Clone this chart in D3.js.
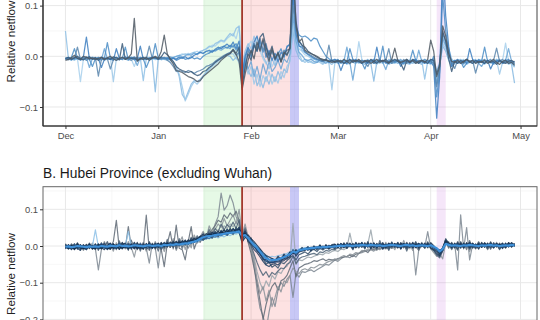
<!DOCTYPE html>
<html><head><meta charset="utf-8">
<script src="https://cdn.jsdelivr.net/npm/d3@7"></script>
<style>body{margin:0;background:#fff}svg{display:block}text{font-family:Arial,"Liberation Sans",sans-serif}</style>
</head><body><svg id="c" width="540" height="320"></svg>
<script>
// ---------------- data ----------------
const firstDay = "2019-12-01";           // daily series start (151 days, to 2020-04-29)
const monthTicks = ["2019-12-01","2020-01-01","2020-02-01","2020-03-01","2020-04-01","2020-05-01"];
const monthLabels = ["Dec","Jan","Feb","Mar","Apr","May"];
const topYTicks = [0.1, 0.0, -0.1];
const bottomYTicks = [0.1, 0.0, -0.1, -0.2];
const periodStarts = ["2020-01-16","2020-01-29","2020-02-14","2020-04-03"];
const periodEnds   = ["2020-01-29","2020-02-14","2020-02-17","2020-04-06"];
const lockdownDate = "2020-01-29";
const yTitle = "Relative netflow";
const titleB = "B. Hubei Province (excluding Wuhan)";

// Panel A series, relative netflow in thousandths
const a1 = [-8,-6,-3,2,-4,-6,0,-2,-5,-3, -6,-4,-2,-7,-3,0,-5,-8,-4,-2, -6,-3,5,75,-10,-4,-6,-2,-8,-3, 0,-4,10,42,5,-6,-15,-28,-30,-32, -36,-40,-42,-45,-50,-48,-40,-35,-30,-25, -20,-15,-8,-3,2,5,12,4,-10,-66, -35,-8,12,-5,28,10,35,8,-10,15, -4,6,-12,8,2,18,200,60,28,35, 12,8,5,3,0,-4,-6,-8,-10,-12, -10,-8,-12,-6,-10,-14,-8,-10,-6,-12, -10,-8,-14,-10,-6,-12,-8,-10,-14,-6, 16,-8,-12,-10,-6,-12,-8,-14,-10,-8, -12,-6,32,10,-40,-20,60,40,5,-10, -12,-8,-14,-10,-6,-12,-8,-14,-10,-12, -8,-14,-10,-6,-12,-16,-10,-8,-14,-12, -18];
const a2 = [-4,-2,-6,-3,0,-5,-7,-3,-1,-6, -3,-8,-2,-5,-4,-6,-1,-3,-7,25, -6,-2,-4,-3,-8,-5,-2,-6,-4,-3, -2,-6,-1,8,3,-4,-10,-20,-25,-28, -30,-32,-30,-35,-38,-36,-30,-28,-22,-18, -12,-8,-4,0,4,6,14,6,18,-62, -20,5,-8,22,10,38,45,18,2,20, -6,8,-10,5,12,15,160,70,30,22, 18,10,6,2,-2,-5,-8,-6,-10,-8, -12,-10,-8,-14,-10,-6,-12,-8,-10,-14, -8,-12,-6,-10,-14,-8,-10,-6,-12,-10, -6,-10,-14,-27,-8,-12,-6,-10,-14,-8, -10,-14,-6,-8,-35,-15,50,30,-5,-30, -10,-14,-8,-12,-6,-10,-14,-8,-12,-10, -14,-8,-12,-10,-16,-8,-12,-14,-10,-8, -12];
const a3 = [-6,-4,-2,15,-3,-8,-4,-1,-6,-20, -5,-2,-7,-4,27,-3,-6,-2,-5,-4, 18,-7,-4,-1,-6,-3,-5,-22,-8,-4, 25,-3,-5,-2,-6,-4,-3,-8,-5,-2, -6,-4,-1,-5,-3,-6,0,4,6,10, 12,15,18,20,16,22,18,25,8,-45, -5,15,-2,25,10,30,8,20,-5,12, -8,4,15,-3,20,22,130,60,42,38, 40,36,30,36,34,20,10,0,-5,-8, -10,-6,-12,-8,-10,15,-6,-10,-8,-12, -25,-8,-10,-6,-12,-10,20,-14,-10,-6, -12,-8,-10,-14,-6,-10,12,-8,-12,-10, -6,-10,-14,0,-80,-30,120,50,10,-15, -8,-12,-10,-22,-14,-10,-8,-12,-6,-10, 18,-10,-6,-14,-8,-10,-12,-6,-14,-10, -16];
const a4 = [-5,-3,-7,-2,-4,-6,-1,38,-5,-3, -7,-4,-22,-6,-3,-5,-8,15,-4,-6, -1,-5,-3,-7,-4,20,-6,-3,-5,-1, -4,-6,-2,-5,-3,-7,-4,-6,-2,-4, -1,-5,-3,2,5,8,6,10,12,8, 14,18,15,20,24,18,28,15,30,-35, 0,18,6,28,40,15,30,-2,12,-8, 6,-10,8,0,18,25,120,45,20,18, 8,4,0,-4,-6,-8,-10,-6,-12,-8, -6,-10,-28,-12,-14,-8,-10,-6,-12,-8, -10,-14,-8,-12,18,-10,-8,-12,-14,-8, -10,-6,-20,-8,-10,-14,-8,-6,-12,-10, -14,-8,-10,-20,-122,-40,180,80,20,-20, -10,-6,-12,-8,-14,15,-6,-12,-8,-10, -14,-8,-25,-12,-10,-8,-14,-10,-6,-12, -10];
const a5 = [50,-5,-8,-3,-6,-2,-7,-4,-1,-6, -3,-8,-5,-2,-6,-4,-7,-3,-5,-2, -6,-4,-1,-5,-8,-3,-48,-4,-6,-2, -5,-3,-7,-4,-2,-6,-3,-5,0,3, 5,2,6,8,4,10,12,15,20,18, 25,28,32,30,38,45,40,55,60,-20, 10,25,15,40,22,30,0,-12,-25,-5, -18,2,-8,10,5,15,90,40,25,12, 8,3,-2,-5,-8,-6,-10,-8,-12,-10, -6,-12,-8,-10,-14,-6,-10,-12,-8,-14, -10,-6,-12,-8,-10,-14,-8,-12,-6,-10, -12,-8,-14,-10,-6,-12,-10,-8,-14,-6, -45,-10,-8,-5,-30,-10,40,25,15,-5, -12,-8,-6,-14,-10,-12,-8,-6,-14,-10, -8,-12,-10,-14,-6,-10,-12,-8,-10,-14, -20];
const a6 = [-3,-6,-2,-7,-4,-50,-5,-3,-8,-2, -6,-4,-1,-5,-3,-7,-2,-6,-4,-3, -5,-2,-6,-20,-3,-5,-4,-1,-6,-3, -7,-2,-5,-3,-6,-4,-1,0,2,5, 3,6,4,8,10,6,12,14,18,22, 20,26,30,28,35,40,45,35,58,-25, 5,20,30,15,38,10,-5,-15,-2,-20, -8,10,-5,12,2,10,70,35,15,10, 3,0,-4,-6,-8,-10,-6,-12,-8,-10, -14,-8,-10,-6,-12,-8,-10,-14,29,-6, -12,-8,-10,-14,-6,-10,-12,-8,-14,-10, -6,-12,-8,-10,-14,-8,-6,-12,-10,-8, -14,-10,-6,-12,-50,-15,30,20,8,-8, -10,-14,-8,-6,-12,-10,-14,-8,-10,-6, -12,-8,-14,-10,-6,-12,-8,26,-10,-14, -22];
const a7 = [-4,-7,-3,-5,18,-6,-4,-8,-3,-5, -2,-39,-6,-3,-5,-25,-7,-2,-6,-4, -3,-5,-8,-4,-2,-6,-3,-5,20,-4, -2,-6,-4,-3,-8,-12,-20,-30,-28,-30, -32,-28,-30,-34,-30,-28,-25,-20,-18,-15, -10,-6,-2,2,5,8,12,2,8,-55, -25,10,2,25,15,35,12,25,-2,10, -6,5,-10,12,4,14,100,55,30,22, 10,5,2,-2,-5,-8,-10,-8,22,-10, -8,-12,-10,-14,-8,-10,-6,-12,-10,-8, -12,-20,-8,-14,-10,-6,-12,-8,15,-14, -8,-10,-12,-6,-14,-8,-10,-12,-8,-10, -12,-8,-10,-14,-60,-25,45,30,10,-12, -24,-8,-12,-14,-6,-10,-8,-33,-12,-10, -6,-12,-10,-8,16,-10,-6,-12,-8,-10, -14];
const a8 = [-6,-3,-5,-8,-2,-4,-7,-3,-6,-1, -5,-3,-7,-4,-6,-2,-50,-5,-3,-7, -4,-6,-2,-5,-3,-8,-4,-6,-2,-5, -3,-7,-4,-6,-8,-5,-10,-25,-35,-60, -88,-75,-60,-50,-55,-48,-40,-30,-25,-20, -15,-10,-5,0,3,5,5,-5,8,-40, -15,-35,-20,-55,-35,-60,-38,-50,-30,-55, -40,-53,-30,-42,-20,-10,60,20,5,-8, -12,-8,-12,-14,-10,-12,-16,-10,-14,-66, -12,-8,-14,-10,-12,-16,-8,-10,-14,-12, -10,-14,-8,-12,-16,-10,-14,-8,-12,-10, -14,-10,-8,-12,-14,-16,-10,-8,-12,-14, -10,-12,-16,-8,-45,-20,25,15,-5,-15, -12,-14,-10,-8,-16,-12,-10,-14,-8,-12, -16,-10,-12,-14,-8,-35,-12,-10,-16,-12, -20];
const a9 = [-2,-5,-7,-3,-6,-4,-2,-8,-4,-6, -4,-6,-3,-8,-5,-2,-6,-4,-7,-3, -5,-8,-3,-6,-4,-2,-7,-5,-3,-6, -70,-5,-3,-6,-4,-8,-12,-20,-40,-75, -85,-70,-55,-48,-50,-45,-38,-32,-25,-18, -12,-8,-4,-2,2,0,-8,-2,-12,-35, -10,-28,-40,-25,-58,-45,-62,-40,-55,-35, -50,-30,-45,-25,-32,-5,50,12,-3,-10, -6,-12,-10,-14,-12,-8,-14,-10,-12,-16, -10,-14,-12,-8,-16,-10,-12,-14,-8,-12, -16,-10,-14,-49,-12,-8,-14,-10,-16,-12, -10,-14,-12,-16,-8,-12,-14,-10,-12,-16, -8,-12,-14,-10,-40,-18,20,10,-8,-20, -14,-10,-12,-16,-8,-12,-14,-10,-12,-8, -14,-12,-10,-16,-12,-8,-14,-12,-10,-16, -53];
const a10 = [-5,-2,-4,-6,-3,-7,-5,-2,-22,-4, -3,-5,-7,15,-4,-6,-3,-8,-5,-2, -6,-4,-3,-5,-18,-2,-4,-6,-3,-5, -4,-2,-6,-3,-5,-1,-3,0,2,-2, 1,4,2,6,3,8,5,10,8,12, 10,14,12,16,18,15,22,12,20,-40, -5,-25,-10,-40,-20,-45,-15,-35,-10,-30, -22,-8,-25,-5,-12,5,80,30,8,2, -6,-8,-6,-10,-12,-8,-10,-14,-8,-10, -12,-8,-14,-10,18,-12,-47,-10,-8,-14, -10,-12,-8,-14,-10,-6,-12,-26,-8,-14, -12,-10,-6,-14,-8,-12,-10,-14,12,-10, -12,-14,-8,-10,-55,-20,35,22,0,-10, -8,-12,-14,-10,-6,-12,-10,-8,-14,-20, -10,-8,-12,-14,-10,-6,-12,-8,15,-10, -16];

// Panel B series (cities), relative netflow in thousandths
const b1 = [-8,4,-10,2,-6,-12,3,-7,6,-9, 5,-8,-4,8,-10,-2,6,-6,-1,9, -5,4,-9,10,-3,-7,6,-4,9,-6, 7,-3,9,-2,10,3,12,1,14,4, 16,5,20,10,22,26,32,22,36,28, 40,28,42,32,46,35,48,36,52,18, 38,12,5,-10,-18,-30,-42,-52,-56,-50, -48,-52,-42,-40,-32,-30,-10,-28,-16,-14, -12,-4,-14,-2,-10,2,-8,4,-7,1, -6,5,-4,8,-5,6,-8,9,-2,10, -4,8,-7,9,-5,6,-9,5,-3,11, -2,8,-8,6,-4,9,-6,5,-5,8, -3,7,-5,-9,-16,-26,-12,16,2,8, -5,9,-6,8,-3,10,-5,6,-8,9, -3,8,-5,9,-2,6,-7,8,-3,9, -2];
const b2 = [6,-7,2,-10,7,-5,-8,4,-7,2, -8,6,-3,-10,2,8,-7,4,-9,5, 7,-8,4,-5,8,-2,-9,7,-4,5, -5,8,-3,10,-2,11,3,13,4,15, 6,17,10,22,14,26,20,34,26,38, 30,40,32,44,34,48,38,46,40,12, 22,30,20,12,2,-8,-18,-26,-30,-34, -40,-28,-36,-22,-30,-16,-22,-10,-16,-4, -11,-2,-10,0,-8,3,-7,1,-6,4, 5,-5,7,-4,9,-2,7,-5,8,-4, 9,-4,8,-5,7,-2,9,-6,8,-2, 7,-5,9,-2,8,-4,10,-5,7,-2, 8,-4,9,1,-10,-20,-4,13,9,-4, 8,-2,7,-5,9,-4,8,-2,6,-4, 9,-2,8,-5,7,1,8,-4,9,-2, 7];
const b3 = [-2,-8,-3,6,-9,2,-6,-10,4,-5, 2,-6,7,-4,-9,5,-2,-7,8,-4, -2,7,-6,2,-8,8,-4,-2,6,-7, 4,7,-2,6,8,2,9,3,7,10, 4,13,8,17,18,21,24,27,28,33, 34,30,37,32,39,40,36,43,45,32, 26,18,8,-3,-12,-22,-34,-42,-46,-44, -45,-41,-38,-35,-26,-22,-14,-23,-11,-10, -7,-12,-5,-10,-3,-8,-1,-6,1,-5, 2,-4,5,-5,2,7,-4,5,0,7, -2,5,0,7,-4,5,2,-2,7,0, 5,-2,4,7,0,5,-4,4,7,0, 5,-2,2,-5,-6,-16,-12,6,0,5, 2,7,-2,5,0,8,2,-2,5,0, 7,2,4,-2,5,2,-4,7,0,4, 5];
const b4 = [-5,2,-8,-3,4,-7,-1,-10,0,-5, -9,4,-7,2,-5,-8,6,-3,-9,2, -3,-9,5,-7,3,-8,2,-5,-9,6, -6,5,-9,3,-3,9,-4,11,0,13, 2,15,6,19,11,27,16,24,33,21, 37,25,39,43,29,45,31,51,38,8, 42,16,22,2,-6,-24,-32,-50,-44,-58, -52,-60,-45,-48,-40,-32,-26,-38,-24,-20, -16,-22,-13,-9,-15,-6,-11,-4,-9,-2, -8,6,-4,8,-7,3,-10,7,-3,9, -6,10,-8,4,-3,8,-7,5,-9,6, -4,9,-7,5,-8,4,-3,10,-6,6, -4,8,-7,-12,-22,-28,-6,17,9,-6, 5,-8,9,-4,6,-7,4,-6,8,-3, 6,-6,9,-3,4,-8,5,-4,8,-2, 4];
const b5 = [1,-3,-1,-4,2,0,-6,1,-3,-1, 44,-2,1,-4,3,-1,-5,2,-3,0, 2,40,-2,4,-3,1,-4,3,-2,1, -1,3,-4,2,0,5,1,4,8,2, 6,3,9,12,10,16,20,18,24,22, 26,22,28,25,30,28,34,32,36,28, 22,25,15,8,0,-10,-18,-25,-30,-28, -30,-26,-25,-22,-20,-16,-8,-14,-8,-6, -5,-3,-6,-2,-4,-1,-3,0,-2,1, -2,2,0,3,-1,1,2,-1,3,0, 2,-1,3,1,0,2,-2,1,3,-1, 1,3,-1,2,0,-2,3,1,-1,2, 0,2,-1,-4,-8,-16,-12,8,4,0, 2,0,3,-1,2,1,-2,3,0,2, 1,3,-1,2,0,3,1,-1,2,1, 0];
const b6 = [-4,-1,-3,0,-5,-2,1,-4,-2,-5, -1,-4,0,-3,-6,0,-2,-5,1,-3, -4,0,-3,-1,2,-4,-2,0,-5,-1, 0,-3,2,0,4,1,3,6,2,5, 8,6,12,10,14,18,16,22,20,26, 24,30,28,32,30,36,34,38,36,22, 28,20,8,-2,-10,-20,-32,-40,-44,-42, -40,-38,-34,-30,-28,-24,-18,-22,-14,-12, -10,-8,-7,-6,-5,-5,-4,-3,-3,-2, 0,-2,1,-1,3,0,-1,2,0,4, 1,-1,2,0,-2,1,3,-1,0,2, 0,-2,1,3,-1,0,2,-2,1,3, -1,1,0,-4,-10,-18,-10,6,2,-1, 0,2,-1,1,3,0,-1,2,1,-1, 2,0,1,-2,1,3,0,2,-1,1, 2];
const b7 = [-3,2,-6,-1,4,-4,0,-5,3,-2, -8,-65,-10,4,-6,2,-4,-2,8,-5, 3,-6,5,-8,2,-4,10,-6,-47,8, -5,-60,4,-8,6,-3,10,-5,12,-8, 15,-6,10,20,8,18,30,22,40,35, 60,80,144,98,110,139,117,80,60,10, 30,20,-10,-50,-120,-170,-190,-230,-180,-140, -165,-120,-100,-110,-90,-80,-140,-74,-85,-70, -72,-68,-65,-70,-65,-60,-55,-50,-52,-45, -38,-42,-35,-30,-29,-32,-25,-30,-20,-18, -15,-12,-10,-14,-8,-10,-5,-8,-3,-6, -2,-5,4,-3,6,-2,8,-79,-10,5, -4,39,-6,-10,-20,-30,-15,12,5,-8, 6,-65,85,-8,50,-38,4,-6,10,-3, 5,-8,12,-4,8,-6,3,-5,9,-2, 4];
const b8 = [2,-5,4,-3,6,-7,3,-4,5,-6, 4,-8,6,-3,9,-5,12,70,-8,10, -6,53,-4,8,-10,5,-8,84,-12,6, -9,4,-10,-56,6,39,-8,57,-6,-10, -38,12,53,-8,15,10,25,18,30,45, 55,70,65,85,75,90,80,95,70,20, 45,10,-20,-60,-100,-150,-200,-160,-130,-110, -100,-120,-95,-90,-80,-60,-40,-84,-60,-55, -50,-48,-45,-40,-42,-38,-35,-40,-36,-38, -38,-34,-32,-30,-28,-25,-29,-22,-20,-15, -12,-18,-8,-10,-5,-7,-2,-4,3,-6, 5,-3,8,-5,10,-4,6,-2,-12,5, -6,8,-4,-12,-10,-25,-8,15,-6,10, -5,12,-3,8,-10,15,-6,4,-8,10, -4,7,-9,5,-3,8,-6,4,-2,9, 3];
const b9 = [-4,3,-2,5,-6,1,-3,4,-5,2, -2,6,-4,1,-7,3,-1,5,-6,2, 4,-3,6,-5,2,-8,4,-2,7,-4, 3,-6,5,-2,8,-4,6,-1,10,-3, 12,5,8,15,10,20,16,28,22,35, 30,45,40,55,48,60,52,65,55,25, 38,15,-5,-30,-70,-100,-120,-95,-110,-80, -90,-70,-75,-60,-55,-40,62,-50,-38,-40, -35,-30,-32,-28,-25,-22,-24,-18,-20,-15, -12,-15,-8,-10,-5,35,-4,2,-6,4, -3,6,44,-4,5,-2,8,-5,3,-6, 4,-3,7,-5,2,-8,5,-3,6,-2, 4,-6,8,-8,-15,-20,-5,18,-4,6, -3,-10,8,-5,6,-3,7,-4,5,-2, 6,-3,5,-6,4,-2,7,-5,3,-1, 5];
const b10 = [2,-6,1,-8,-3,4,-7,-3,3,-7, -5,3,-8,1,-5,-9,4,-5,-1,-8, 3,-6,-1,4,-7,2,-6,0,5,-4, 4,-3,6,-2,7,3,8,2,10,5, 12,8,15,13,19,22,25,27,31,29, 33,31,37,34,39,37,41,39,45,30, 34,22,16,3,-6,-10,-25,-28,-38,-34, -39,-32,-34,-26,-28,-18,-16,-14,-13,-7, -9,-4,-7,-2,-5,-1,-4,0,-3,1, -2,3,0,3,1,4,-1,5,0,6, 1,4,2,5,0,5,-1,4,1,6, 1,4,-1,5,2,4,1,3,0,5, 0,3,1,-3,-7,-11,-8,10,2,4, 1,4,-1,5,0,6,1,4,-1,5, 0,5,2,4,1,3,0,5,0,6, 1];
const b11 = [-6,1,-3,-9,2,-5,-1,-8,3,-2, -7,1,4,-5,-2,6,-8,-1,3,-6, 1,-4,6,-7,0,3,-5,6,-3,2, -1,6,1,8,-1,6,4,9,3,11, 10,9,16,11,21,19,27,23,30,26, 36,33,40,35,44,39,46,42,50,26, 40,26,12,6,-14,-20,-38,-36,-44,-46, -42,-44,-40,-34,-36,-26,-18,-20,-14,-11, -6,-10,-3,-8,-2,-7,0,-5,2,-3, 4,-3,6,-1,5,-2,3,-4,6,1, 5,-1,6,0,3,-3,5,1,6,-2, 6,0,3,-2,5,1,6,-3,4,1, 5,-1,4,-4,-9,-19,-11,9,5,0, 4,1,5,-2,4,0,6,-1,3,1, 5,-1,3,0,6,-2,4,1,5,0, 3];
const b12 = [4,-8,6,-4,9,-10,3,-6,8,-5, 6,-12,9,-4,12,-8,5,-10,14,-6, 9,-12,16,-7,10,-14,7,-9,12,-5, 8,-14,10,-6,18,-4,14,-8,20,-2, 16,4,24,10,28,14,35,22,45,30, 48,38,60,44,58,50,65,48,72,25, 50,20,0,-22,-45,-65,-80,-70,-85,-72, -78,-68,-60,-62,-50,-45,-28,-48,-35,-30, -28,-25,-22,-20,-24,-16,-18,-12,-14,-9, -10,-4,-8,2,-6,8,-5,10,-3,6, -8,12,-4,6,-10,15,-6,4,-12,8, -3,10,-8,6,-14,5,-5,12,-9,4, -6,10,-5,-12,-25,-32,-12,20,6,-8, 6,-10,12,-5,8,-9,5,-7,10,-4, 7,-8,10,-4,5,-10,6,-5,9,-3, 5];
const b13 = [-5,3,-9,6,-4,2,-12,5,-3,8, -10,4,-8,12,-6,3,-14,9,-5,2, -8,12,-4,-30,6,-10,4,-14,10,-6, 12,-8,6,-15,10,-4,20,-12,8,25, -10,15,-5,30,12,25,40,20,55,35, 45,60,50,75,55,70,85,60,100,30, 60,25,-5,-40,-90,-130,-110,-150,-120,-165, -140,-110,-125,-95,-100,-80,-60,-70,-75,-65, -62,-66,-58,-60,-55,-50,-52,-46,-42,-40, -35,-38,-30,-26,-30,-22,-24,-18,-20,-12, -14,-8,-10,-4,-12,6,-8,10,-6,3, -10,8,-5,15,-8,4,-12,6,-4,10, -6,12,-8,-18,-28,-20,-35,8,12,-10, 4,-12,10,-6,8,-15,6,-8,12,-4, 8,-10,6,-5,10,-8,4,-6,8,-3, 6];
const bMean = [-2,-1,-3,-2,0,-1,-2,-3,-1,-2, -1,-2,0,-1,-2,1,0,-1,2,0, 1,-1,0,2,1,0,-1,1,2,0, 1,2,0,3,2,4,3,5,4,6, 7,8,10,12,15,20,24,26,27,28, 30,31,32,33,35,36,37,38,40,28, 30,22,12,3,-5,-15,-25,-33,-37,-38, -38,-36,-33,-30,-26,-22,-15,-18,-12,-10, -8,-7,-6,-5,-4,-4,-3,-3,-2,-2, -1,0,1,0,2,1,0,2,1,3, 2,1,3,2,1,2,0,1,2,3, 2,1,0,2,3,1,2,0,1,2, 1,0,2,-2,-6,-15,-8,6,3,1, 2,1,0,2,1,3,2,1,0,2, 1,2,3,1,2,0,1,2,1,3, 2];

const seriesA = [a9,a8,a6,a5,a10,a3,a4,a7,a2,a1];
const colorsA = ["#86b8e0","#9cc8e8","#a8d0ec","#8ec0e5","#68a3d5","#4b8dc6","#3c7ebf","#5a86ad","#3b5b79","#4d5863"];
const seriesB = [b9,b7,b8,b13,b12,b5,b6,b3,b4,b11,b1,b2,b10];
const colorsB = ["#9aa4ac","#7c8792","#5f6a75","#8a9299","#4e6377","#8cc0e6","#2c6aa6","#24507e","#35506b","#21406a","#1d3b5e","#173252","#0f2a47"];

// ---------------- drawing ----------------
const svg = d3.select("#c");
const parse = d3.timeParse("%Y-%m-%d");
const t0 = parse(firstDay);
const nDays = a1.length;
const tEnd = d3.timeDay.offset(t0, nDays - 1);
const DAY = 864e5;
const pad = 7.5 * DAY;
const L = 43, R = 537;
const x = d3.scaleTime().domain([new Date(+t0 - pad), new Date(+tEnd + pad)]).range([L, R]);
const dates = d3.range(nDays).map(i => d3.timeDay.offset(t0, i));

const panels = [
  {top:-43, bottom:126, y: d3.scaleLinear().domain([-0.1375, 0.1959]).range([126, -43]),
   ticks: topYTicks, series: seriesA, colors: colorsA, mean: null, title: null, xAxis: true, lw: 1.25},
  {top:186.7, bottom:361.3, y: d3.scaleLinear().domain([-0.3142, 0.1616]).range([361.3, 186.7]),
   ticks: bottomYTicks, series: seriesB, colors: colorsB, mean: bMean, title: titleB, xAxis: false, lw: 1.2}
];

const bandFills = ["rgba(100,220,100,0.16)","rgba(245,110,110,0.2)","rgba(95,95,230,0.34)","rgba(205,130,225,0.2)"];
const monthDates = monthTicks.map(parse);
const minorDates = monthDates.slice(1).map((d,i) => new Date((+d + +monthDates[i]) / 2));

panels.forEach((p, k) => {
  const g = svg.append("g");
  const y = p.y;
  const clipId = "clip" + k;
  svg.append("clipPath").attr("id", clipId).append("rect")
    .attr("x", L).attr("y", p.top).attr("width", R - L).attr("height", p.bottom - p.top);

  const [d0, d1] = y.domain();
  const minorY = d3.range(Math.ceil(d0 / 0.05) * 0.05, d1, 0.05).filter(v => Math.abs(Math.round(v * 10) - v * 10) > 0.01);
  g.selectAll(".mgy").data(minorY).join("line")
    .attr("x1", L).attr("x2", R).attr("y1", v => y(v)).attr("y2", v => y(v))
    .attr("stroke", "#f2f2f2").attr("stroke-width", 0.6);
  g.selectAll(".mgx").data(minorDates).join("line")
    .attr("x1", d => x(d)).attr("x2", d => x(d)).attr("y1", p.top).attr("y2", p.bottom)
    .attr("stroke", "#f2f2f2").attr("stroke-width", 0.6);
  const majorY = d3.range(Math.ceil(d0 / 0.1) * 0.1, d1, 0.1);
  g.selectAll(".gy").data(majorY).join("line")
    .attr("x1", L).attr("x2", R).attr("y1", v => y(v)).attr("y2", v => y(v))
    .attr("stroke", "#e8e8e8").attr("stroke-width", 1);
  g.selectAll(".gx").data(monthDates).join("line")
    .attr("x1", d => x(d)).attr("x2", d => x(d)).attr("y1", p.top).attr("y2", p.bottom)
    .attr("stroke", "#e8e8e8").attr("stroke-width", 1);

  g.selectAll(".band").data(periodStarts).join("rect")
    .attr("x", (s) => x(parse(s)))
    .attr("width", (s, i) => x(parse(periodEnds[i])) - x(parse(s)))
    .attr("y", p.top).attr("height", p.bottom - p.top)
    .attr("fill", (s, i) => bandFills[i]);

  const line = d3.line().x((v, i) => x(dates[i])).y(v => y(v / 1000));
  const lg = g.append("g").attr("clip-path", `url(#${clipId})`);
  p.series.forEach((s, i) => {
    lg.append("path").attr("d", line(s)).attr("fill", "none")
      .attr("stroke", p.colors[i]).attr("stroke-width", p.lw)
      .attr("stroke-opacity", 0.85).attr("stroke-linejoin", "round");
  });
  if (p.mean) {
    lg.append("path").attr("d", line(p.mean)).attr("fill", "none")
      .attr("stroke", "#3f90d8").attr("stroke-width", 2.2).attr("stroke-linejoin", "round");
  }

  g.append("line").attr("x1", x(parse(lockdownDate))).attr("x2", x(parse(lockdownDate)))
    .attr("y1", p.top).attr("y2", p.bottom).attr("stroke", "#a3392d").attr("stroke-width", 1.8);

  g.append("rect").attr("x", L).attr("y", p.top).attr("width", R - L).attr("height", p.bottom - p.top)
    .attr("fill", "none").attr("stroke", k === 0 ? "#444" : "#666").attr("stroke-width", 1);
  if (k === 0) {
    g.append("line").attr("x1", L).attr("x2", L).attr("y1", p.top).attr("y2", p.bottom).attr("stroke", "#333").attr("stroke-width", 1.2);
    g.append("line").attr("x1", L).attr("x2", R).attr("y1", p.bottom).attr("y2", p.bottom).attr("stroke", "#333").attr("stroke-width", 1.2);
  }

  const ya = g.append("g").attr("transform", `translate(${L},0)`)
    .call(d3.axisLeft(y).tickValues(p.ticks).tickFormat(d3.format(".1f")).tickSize(3).tickPadding(2));
  ya.select(".domain").remove();
  ya.selectAll("line").attr("stroke", "#333");
  ya.selectAll("text").attr("fill", "#4d4d4d").style("font-size", "9.4px").style("font-family", "Arial, 'Liberation Sans', sans-serif");

  if (p.xAxis) {
    const xa = g.append("g").attr("transform", `translate(0,${p.bottom})`)
      .call(d3.axisBottom(x).tickValues(monthDates).tickFormat((d, i) => monthLabels[i]).tickSize(3).tickPadding(3));
    xa.select(".domain").remove();
    xa.selectAll("line").attr("stroke", "#333");
    xa.selectAll("text").attr("fill", "#4d4d4d").style("font-size", "9.4px").style("font-family", "Arial, 'Liberation Sans', sans-serif");
  }

  g.append("text").attr("transform", `translate(14.5,${(p.top + p.bottom) / 2}) rotate(-90)`)
    .attr("text-anchor", "middle").attr("fill", "#222").style("font-size", "11.6px").text(yTitle);

  if (p.title) {
    g.append("text").attr("x", L).attr("y", p.top - 9).attr("fill", "#1a1a1a")
      .style("font-size", "13.8px").text(p.title);
  }
});
</script></body></html>
